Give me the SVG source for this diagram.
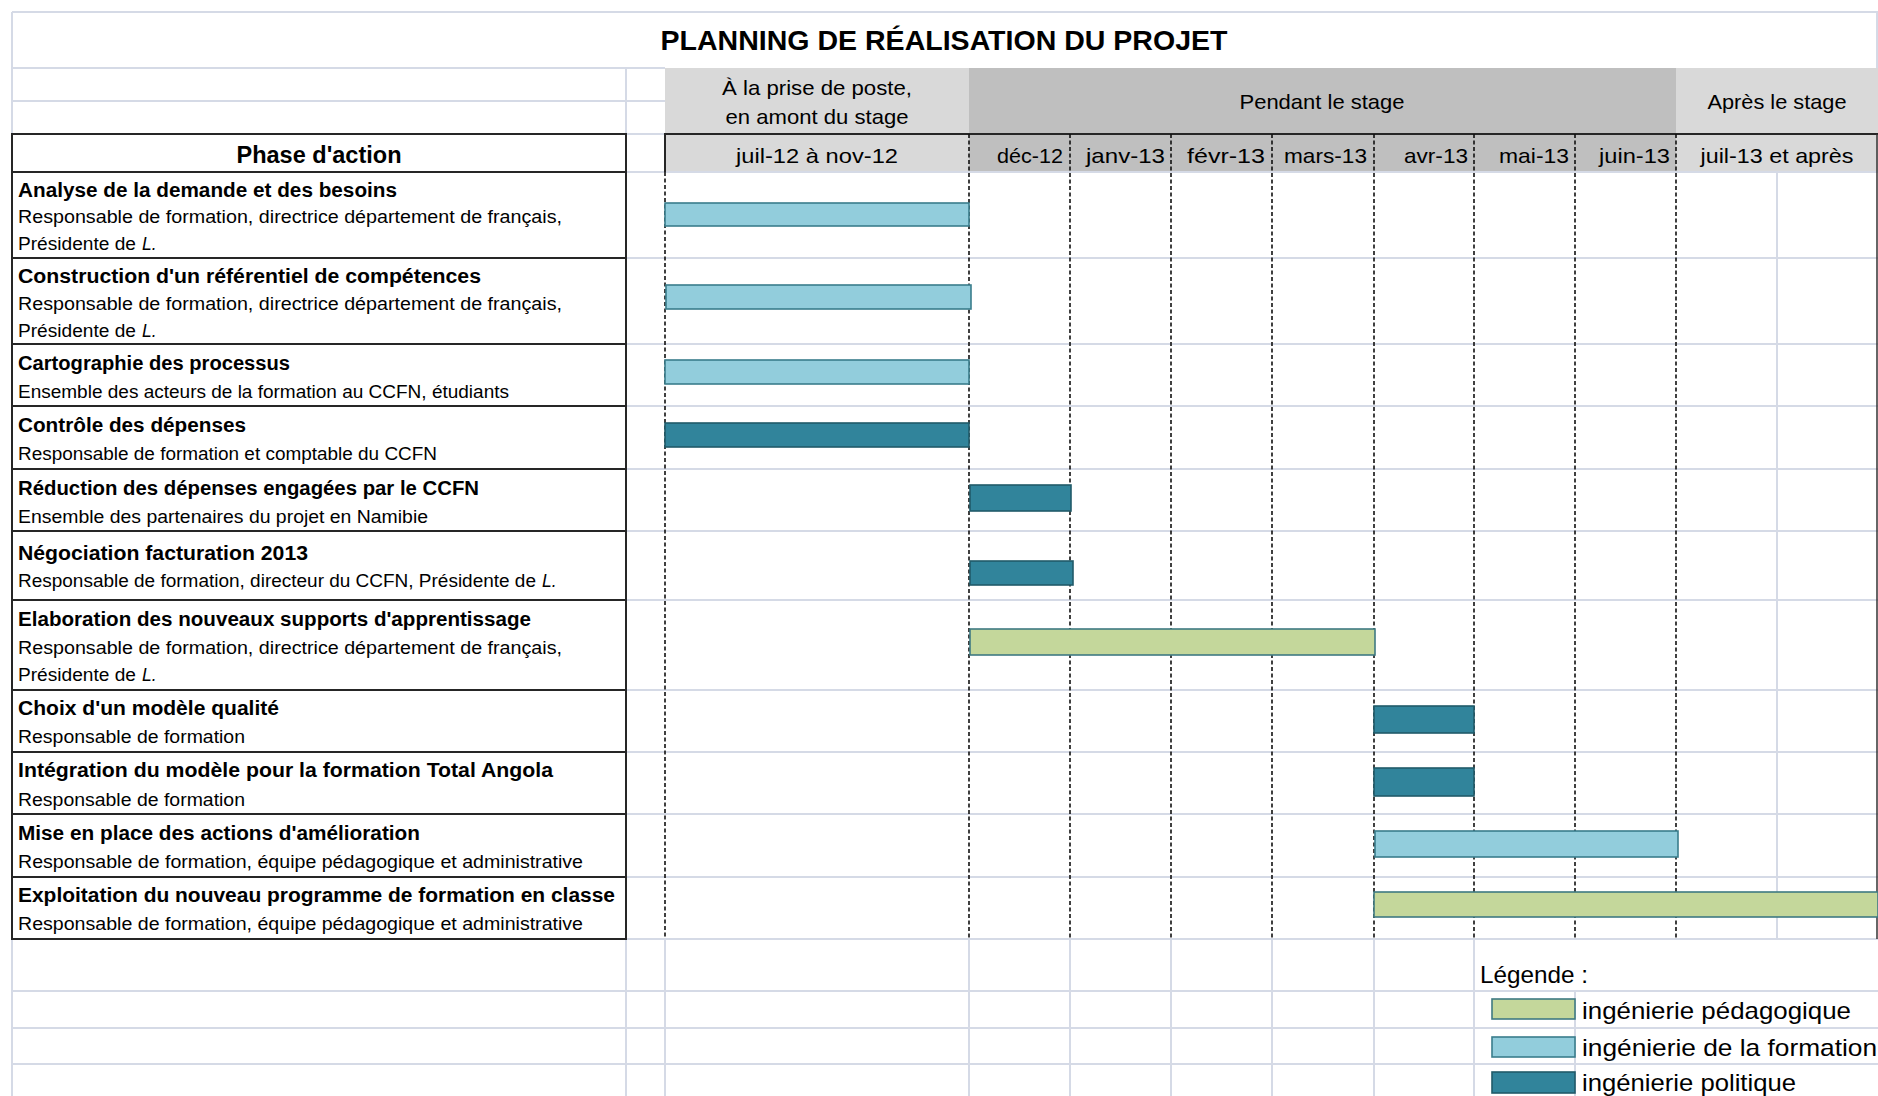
<svg xmlns="http://www.w3.org/2000/svg" width="1878" height="1096" viewBox="0 0 1878 1096">
<style>
  text { font-family: "Liberation Sans", Arial, sans-serif; fill: #000; }
  .ttl { font-size: 28px; font-weight: bold; }
  .hd { font-size: 21px; }
  .hb { font-size: 23px; font-weight: bold; }
  .t { font-size: 19.5px; font-weight: bold; }
  .s { font-size: 17.5px; }
  .lg { font-size: 24px; }
  .grid { stroke: #d5dae6; stroke-width: 2; fill: none; }
  .blk { stroke: #262626; stroke-width: 2; fill: none; }
  .dash { stroke: #111; stroke-width: 1.6; stroke-dasharray: 4 2.5; fill: none; }
  .b1 { fill: #92cddc; stroke: #3a7d8c; stroke-width: 1.6; }
  .b2 { fill: #31849b; stroke: #215b69; stroke-width: 1.6; }
  .b3 { fill: #c4d79b; stroke: #3f7a82; stroke-width: 1.6; }
</style>
<rect x="0" y="0" width="1878" height="1096" fill="#ffffff"/>

<g id="header-fills">
  <rect x="665" y="68" width="304" height="104" fill="#d9d9d9"/>
  <rect x="969" y="68" width="707" height="104" fill="#bfbfbf"/>
  <rect x="1676" y="68" width="202" height="104" fill="#d9d9d9"/>
</g>

<g id="grid" class="grid">
  <path d="M12 12H1878M12 68H665M12 101H665M12 134H665"/>
  <path d="M626 172H1878M626 258H1878M626 344H1878M626 406H1878M626 469H1878M626 531H1878M626 600H1878M626 690H1878M626 752H1878M626 814H1878M626 877H1878M626 939H1878"/>
  <path d="M12 991H1878M12 1028H1878M12 1064H1878"/>
  <path d="M12 12V134M12 939V1096M626 68V1096M665 939V1096M969 939V1096M1070 939V1096M1171 939V1096M1272 939V1096M1374 939V1096M1474 939V1096M1575 991V1096M1777 172V939M1877 12V68"/>
</g>

<g id="connectors">
  <path class="blk" d="M12 134H626V939H12Z"/>
  <path class="blk" d="M12 172H626M12 258H626M12 344H626M12 406H626M12 469H626M12 531H626M12 600H626M12 690H626M12 752H626M12 814H626M12 877H626"/>
  <path class="blk" d="M665 172V134H1878"/>
  <path d="M1877 134V939" stroke="#333" stroke-width="1.5"/>
  <path class="dash" d="M665 172V939M969 134V939M1070 134V939M1171 134V939M1272 134V939M1374 134V939M1474 134V939M1575 134V939M1676 134V939"/>
</g>

<g id="title">
  <text class="ttl" x="944" y="50" text-anchor="middle" textLength="567" lengthAdjust="spacingAndGlyphs">PLANNING DE RÉALISATION DU PROJET</text>
</g>

<g id="period-headers">
  <text class="hd" x="817" y="95" text-anchor="middle" textLength="190" lengthAdjust="spacingAndGlyphs">À la prise de poste,</text>
  <text class="hd" x="817" y="124" text-anchor="middle" textLength="183" lengthAdjust="spacingAndGlyphs">en amont du stage</text>
  <text class="hd" x="1322" y="109" text-anchor="middle" textLength="165" lengthAdjust="spacingAndGlyphs">Pendant le stage</text>
  <text class="hd" x="1777" y="109" text-anchor="middle" textLength="139" lengthAdjust="spacingAndGlyphs">Après le stage</text>
</g>

<g id="month-headers">
  <text class="hb" x="319" y="163" text-anchor="middle" textLength="165" lengthAdjust="spacingAndGlyphs">Phase d'action</text>
  <text class="hd" x="817" y="163" text-anchor="middle" textLength="162" lengthAdjust="spacingAndGlyphs">juil-12 à nov-12</text>
  <text class="hd" x="1063" y="163" text-anchor="end" textLength="66" lengthAdjust="spacingAndGlyphs">déc-12</text>
  <text class="hd" x="1165" y="163" text-anchor="end" textLength="79" lengthAdjust="spacingAndGlyphs">janv-13</text>
  <text class="hd" x="1265" y="163" text-anchor="end" textLength="78" lengthAdjust="spacingAndGlyphs">févr-13</text>
  <text class="hd" x="1367" y="163" text-anchor="end" textLength="83" lengthAdjust="spacingAndGlyphs">mars-13</text>
  <text class="hd" x="1468" y="163" text-anchor="end" textLength="64" lengthAdjust="spacingAndGlyphs">avr-13</text>
  <text class="hd" x="1569" y="163" text-anchor="end" textLength="70" lengthAdjust="spacingAndGlyphs">mai-13</text>
  <text class="hd" x="1670" y="163" text-anchor="end" textLength="71" lengthAdjust="spacingAndGlyphs">juin-13</text>
  <text class="hd" x="1777" y="163" text-anchor="middle" textLength="153" lengthAdjust="spacingAndGlyphs">juil-13 et après</text>
</g>

<g id="task-1">
  <text class="t" x="18" y="197" textLength="379" lengthAdjust="spacingAndGlyphs">Analyse de la demande et des besoins</text>
  <text class="s" x="18" y="223" textLength="544" lengthAdjust="spacingAndGlyphs">Responsable de formation, directrice département de français,</text>
  <text class="s" x="18" y="250" textLength="118" lengthAdjust="spacingAndGlyphs">Présidente de</text>
  <text class="s" x="142" y="250" font-style="italic">L.</text>
  <rect class="b1" x="665" y="203" width="304" height="23"/>
</g>

<g id="task-2">
  <text class="t" x="18" y="283" textLength="463" lengthAdjust="spacingAndGlyphs">Construction d'un référentiel de compétences</text>
  <text class="s" x="18" y="310" textLength="544" lengthAdjust="spacingAndGlyphs">Responsable de formation, directrice département de français,</text>
  <text class="s" x="18" y="337" textLength="118" lengthAdjust="spacingAndGlyphs">Présidente de</text>
  <text class="s" x="142" y="337" font-style="italic">L.</text>
  <rect class="b1" x="666" y="285" width="305" height="24"/>
</g>

<g id="task-3">
  <text class="t" x="18" y="370" textLength="272" lengthAdjust="spacingAndGlyphs">Cartographie des processus</text>
  <text class="s" x="18" y="398" textLength="491" lengthAdjust="spacingAndGlyphs">Ensemble des acteurs de la formation au CCFN, étudiants</text>
  <rect class="b1" x="665" y="360" width="304" height="24"/>
</g>

<g id="task-4">
  <text class="t" x="18" y="432" textLength="228" lengthAdjust="spacingAndGlyphs">Contrôle des dépenses</text>
  <text class="s" x="18" y="460" textLength="419" lengthAdjust="spacingAndGlyphs">Responsable de formation et comptable du CCFN</text>
  <rect class="b2" x="665" y="423" width="304" height="24"/>
</g>

<g id="task-5">
  <text class="t" x="18" y="495" textLength="461" lengthAdjust="spacingAndGlyphs">Réduction des dépenses engagées par le CCFN</text>
  <text class="s" x="18" y="523" textLength="410" lengthAdjust="spacingAndGlyphs">Ensemble des partenaires du projet en Namibie</text>
  <rect class="b2" x="970" y="485" width="101" height="26"/>
</g>

<g id="task-6">
  <text class="t" x="18" y="560" textLength="290" lengthAdjust="spacingAndGlyphs">Négociation facturation 2013</text>
  <text class="s" x="18" y="587" textLength="518" lengthAdjust="spacingAndGlyphs">Responsable de formation, directeur du CCFN, Présidente de</text>
  <text class="s" x="542" y="587" font-style="italic">L.</text>
  <rect class="b2" x="970" y="561" width="103" height="24"/>
</g>

<g id="task-7">
  <text class="t" x="18" y="626" textLength="513" lengthAdjust="spacingAndGlyphs">Elaboration des nouveaux supports d'apprentissage</text>
  <text class="s" x="18" y="654" textLength="544" lengthAdjust="spacingAndGlyphs">Responsable de formation, directrice département de français,</text>
  <text class="s" x="18" y="681" textLength="118" lengthAdjust="spacingAndGlyphs">Présidente de</text>
  <text class="s" x="142" y="681" font-style="italic">L.</text>
  <rect class="b3" x="970" y="629" width="405" height="26"/>
</g>

<g id="task-8">
  <text class="t" x="18" y="715" textLength="261" lengthAdjust="spacingAndGlyphs">Choix d'un modèle qualité</text>
  <text class="s" x="18" y="743" textLength="227" lengthAdjust="spacingAndGlyphs">Responsable de formation</text>
  <rect class="b2" x="1374" y="706" width="100" height="27"/>
</g>

<g id="task-9">
  <text class="t" x="18" y="777" textLength="535" lengthAdjust="spacingAndGlyphs">Intégration du modèle pour la formation Total Angola</text>
  <text class="s" x="18" y="806" textLength="227" lengthAdjust="spacingAndGlyphs">Responsable de formation</text>
  <rect class="b2" x="1374" y="768" width="100" height="28"/>
</g>

<g id="task-10">
  <text class="t" x="18" y="840" textLength="402" lengthAdjust="spacingAndGlyphs">Mise en place des actions d'amélioration</text>
  <text class="s" x="18" y="868" textLength="565" lengthAdjust="spacingAndGlyphs">Responsable de formation, équipe pédagogique et administrative</text>
  <rect class="b1" x="1375" y="831" width="303" height="26"/>
</g>

<g id="task-11">
  <text class="t" x="18" y="902" textLength="597" lengthAdjust="spacingAndGlyphs">Exploitation du nouveau programme de formation en classe</text>
  <text class="s" x="18" y="930" textLength="565" lengthAdjust="spacingAndGlyphs">Responsable de formation, équipe pédagogique et administrative</text>
  <rect class="b3" x="1374" y="892" width="504" height="25"/>
</g>

<g id="legend">
  <text class="lg" x="1480" y="983" textLength="108" lengthAdjust="spacingAndGlyphs">Légende :</text>
  <rect class="b3" x="1492" y="999" width="83" height="20"/>
  <text class="lg" x="1582" y="1019" textLength="269" lengthAdjust="spacingAndGlyphs">ingénierie pédagogique</text>
  <rect class="b1" x="1492" y="1037" width="83" height="20"/>
  <text class="lg" x="1582" y="1056" textLength="295" lengthAdjust="spacingAndGlyphs">ingénierie de la formation</text>
  <rect class="b2" x="1492" y="1072" width="83" height="21"/>
  <text class="lg" x="1582" y="1091" textLength="214" lengthAdjust="spacingAndGlyphs">ingénierie politique</text>
</g>
</svg>
